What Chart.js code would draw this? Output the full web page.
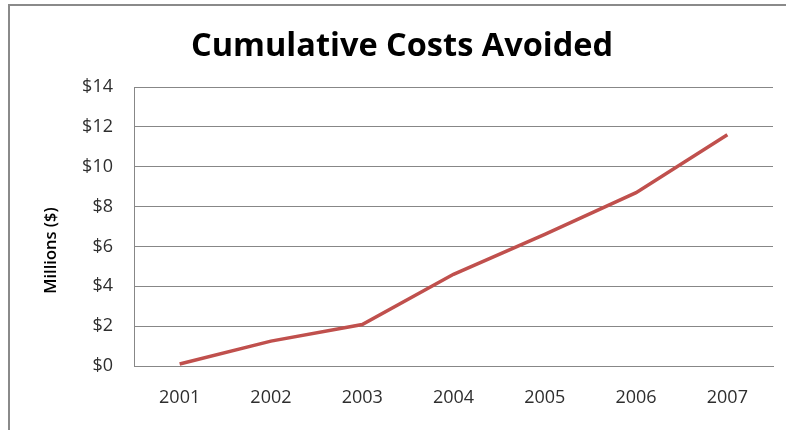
<!DOCTYPE html>
<html>
<head>
<meta charset="utf-8">
<script src="https://cdn.jsdelivr.net/npm/chart.js@4/dist/chart.umd.min.js"></script>
<style>
  html, body { margin: 0; padding: 0; background: #fff; overflow: hidden; }
  #wrap { position: relative; width: 786px; height: 430px; }
  #frame { position: absolute; left: 8px; top: 4px; width: 900px; height: 500px;
           border-left: 2px solid #8a8a8a; border-top: 2px solid #8a8a8a; }
  canvas { position: absolute; left: 0; top: 0; }
</style>
</head>
<body>
<div id="wrap">
  <div id="frame"></div>
  <canvas id="c" width="786" height="430"></canvas>
</div>
<script>
// costs avoided, running total in millions of dollars
const years = ['2001', '2002', '2003', '2004', '2005', '2006', '2007'];
const cumulativeCosts = [0.1, 1.25, 2.08, 4.6, 6.6, 8.7, 11.6];
const yTicks = [0, 2, 4, 6, 8, 10, 12, 14];

const gridGrey = '#878787';
const tickFont = { family: 'Open Sans', size: 18 };

// rotated axis caption, sits a bit lower than the plot middle
const axisCaption = {
  id: 'axisCaption',
  afterDraw(chart) {
    const ctx = chart.ctx, a = chart.chartArea;
    ctx.save();
    ctx.translate(a.left - 83, (a.top + a.bottom) / 2 + 24);
    ctx.rotate(-Math.PI / 2);
    ctx.font = '600 16.5px "Open Sans"';
    ctx.fillStyle = '#000';
    ctx.textAlign = 'center';
    ctx.textBaseline = 'middle';
    ctx.fillText('Millions ($)', 0, 0);
    ctx.restore();
  }
};

new Chart(document.getElementById('c'), {
  type: 'line',
  data: {
    labels: years,
    datasets: [{
      data: cumulativeCosts,
      borderColor: '#C0504D',
      borderWidth: 3.5,
      pointRadius: 0,
      tension: 0,
      fill: false
    }]
  },
  options: {
    responsive: false,
    animation: false,
    layout: { padding: { left: 31, right: 13, top: 0, bottom: 0 } },
    plugins: {
      legend: { display: false },
      tooltip: { enabled: false },
      title: {
        display: true,
        text: 'Cumulative Costs Avoided',
        color: '#000',
        font: { family: 'Open Sans', size: 32.5, weight: 'bold', lineHeight: 1.2 },
        padding: { top: 27, bottom: 21 }
      }
    },
    scales: {
      x: {
        offset: true,
        grid: { display: false, drawTicks: false },
        border: { display: true, color: gridGrey, width: 1 },
        ticks: { color: '#2e2e2e', font: tickFont, padding: 21, maxRotation: 0 },
        afterFit(s) { s.height = 64; }
      },
      y: {
        min: 0,
        max: 14,
        afterBuildTicks(s) { s.ticks = yTicks.map(v => ({ value: v })); },
        grid: { color: gridGrey, lineWidth: 1, drawTicks: false },
        border: { display: true, color: gridGrey, width: 1 },
        ticks: {
          color: '#2e2e2e',
          font: tickFont,
          padding: 21,
          callback: v => '$' + v
        },
        afterFit(s) { s.width = 103; }
      }
    }
  },
  plugins: [axisCaption]
});
</script>
</body>
</html>
